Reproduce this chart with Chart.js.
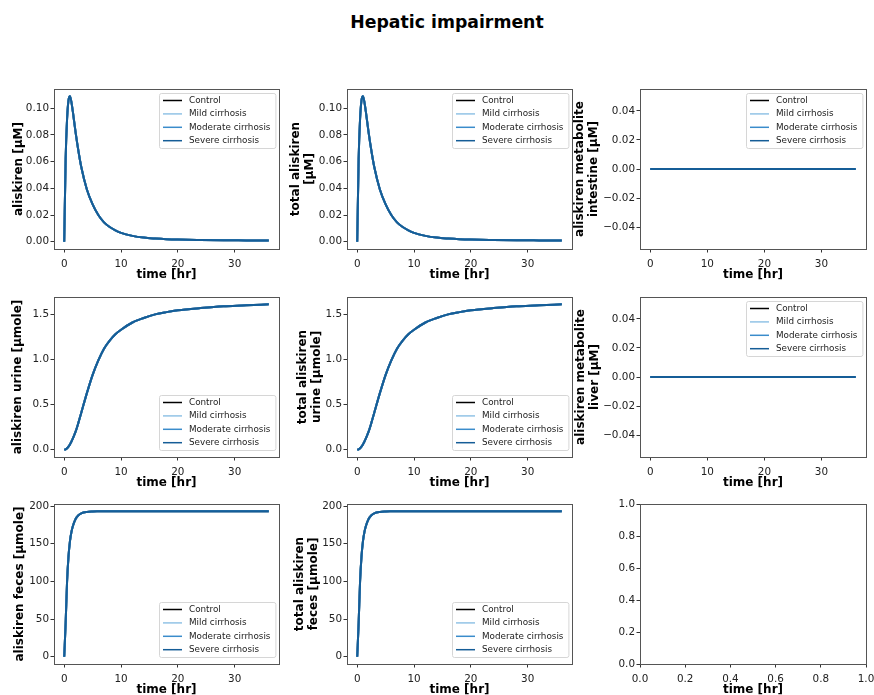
<!DOCTYPE html>
<html>
<head>
<meta charset="utf-8">
<script src="https://cdn.jsdelivr.net/npm/chart.js@4.4.0/dist/chart.umd.min.js"></script>
<style>
  body { margin: 0; background: #fff; }
  #fig { position: relative; width: 874px; height: 695px; }
  #fig canvas { position: absolute; left: 0; top: 0; }
  #title { position: absolute; top: 12px; left: 0; width: 894px; text-align: center;
           font: bold 17.3px "DejaVu Sans"; line-height: 20px; color: #000; }
</style>
</head>
<body>
<div id="fig"><div id="title">Hepatic impairment</div></div>
<script>
// simulated time course (hours)
const timeHr = [0, 0.25, 0.5, 0.75, 1, 1.25, 1.5, 2, 2.5, 3, 4, 5, 6, 7, 8, 9, 10, 12, 14, 16, 18, 20, 24, 28, 32, 36];
const aliskirenPlasma = [0, 0.062, 0.092, 0.106, 0.109, 0.105, 0.098, 0.082, 0.068, 0.056, 0.039, 0.028, 0.020, 0.0145, 0.011, 0.0085, 0.0066, 0.0044, 0.0031, 0.0024, 0.0019, 0.0016, 0.0013, 0.0011, 0.0010, 0.0009];
const aliskirenUrine = [0, 0.005, 0.016, 0.034, 0.058, 0.088, 0.122, 0.20, 0.30, 0.41, 0.63, 0.83, 0.99, 1.12, 1.21, 1.28, 1.33, 1.41, 1.46, 1.50, 1.525, 1.545, 1.57, 1.59, 1.60, 1.612];
const aliskirenFeces = [0, 45, 100, 133, 153, 165, 173, 183, 188, 190.5, 192.3, 192.9, 193.1, 193.2, 193.2, 193.2, 193.2, 193.2, 193.2, 193.2, 193.2, 193.2, 193.2, 193.2, 193.2, 193.2];
const metaboliteTime = [0, 36];
const metaboliteConc = [0, 0];

const groups = ['Control', 'Mild cirrhosis', 'Moderate cirrhosis', 'Severe cirrhosis'];
const groupColors = ['#000000', '#92c3e6', '#3a8ccb', '#155d97'];

const timeTicks = [0, 10, 20, 30];
const plasmaTicks = [0, 0.02, 0.04, 0.06, 0.08, 0.10];
const urineTicks = [0, 0.5, 1.0, 1.5];
const fecesTicks = [0, 50, 100, 150, 200];
const metaboliteTicks = [-0.04, -0.02, 0, 0.02, 0.04];
const unitTicks = [0, 0.2, 0.4, 0.6, 0.8, 1.0];

// subplot grid
const colLeft = [54, 347, 640];
const colRight = [279, 572, 866];
const rowTop = [89, 297, 504];
const rowBottom = [249, 457, 664];

const panels = [
  { row: 0, col: 0, ylabel: 'aliskiren [μM]', x: timeHr, y: aliskirenPlasma, yTicks: plasmaTicks, yDec: 2, legend: 'upper', labelX: 19 },
  { row: 0, col: 1, ylabel: ['total aliskiren', '[μM]'], x: timeHr, y: aliskirenPlasma, yTicks: plasmaTicks, yDec: 2, legend: 'upper', labelX: 296 },
  { row: 0, col: 2, ylabel: ['aliskiren metabolite', 'intestine [μM]'], x: metaboliteTime, y: metaboliteConc, yTicks: metaboliteTicks, yDec: 2, legend: 'upper', labelX: 580 },
  { row: 1, col: 0, ylabel: 'aliskiren urine [μmole]', x: timeHr, y: aliskirenUrine, yTicks: urineTicks, yDec: 1, legend: 'lower', labelX: 18 },
  { row: 1, col: 1, ylabel: ['total aliskiren', 'urine [μmole]'], x: timeHr, y: aliskirenUrine, yTicks: urineTicks, yDec: 1, legend: 'lower', labelX: 303 },
  { row: 1, col: 2, ylabel: ['aliskiren metabolite', 'liver [μM]'], x: metaboliteTime, y: metaboliteConc, yTicks: metaboliteTicks, yDec: 2, legend: 'upper', labelX: 581 },
  { row: 2, col: 0, ylabel: 'aliskiren feces [μmole]', x: timeHr, y: aliskirenFeces, yTicks: fecesTicks, yDec: 0, legend: 'lower', labelX: 20 },
  { row: 2, col: 1, ylabel: ['total aliskiren', 'feces [μmole]'], x: timeHr, y: aliskirenFeces, yTicks: fecesTicks, yDec: 0, legend: 'lower', labelX: 300 },
  { row: 2, col: 2, ylabel: null, x: null, y: null, yTicks: unitTicks, yDec: 1, legend: null, labelX: 0 }
];

Chart.defaults.font.family = '"DejaVu Sans"';

// 5% margins like matplotlib autoscale
function padLimits(vals) {
  const lo = Math.min(...vals), hi = Math.max(...vals);
  if (hi === lo) return [lo - 0.055, hi + 0.055];
  const m = (hi - lo) * 0.05;
  return [lo - m, hi + m];
}

function fmt(v, dec) {
  return v.toFixed(dec).replace('-', '\u2212');
}

// full box around the axes
const framePlugin = {
  id: 'frame',
  afterDraw(chart) {
    const a = chart.chartArea, ctx = chart.ctx;
    ctx.save();
    ctx.strokeStyle = '#555';
    ctx.lineWidth = 1;
    ctx.strokeRect(Math.round(a.left) + 0.5, Math.round(a.top) + 0.5,
                   Math.round(a.right - a.left), Math.round(a.bottom - a.top));
    ctx.restore();
  }
};

// legend drawn inside the axes with a rounded frame
const boxLegend = {
  id: 'boxLegend',
  afterDraw(chart, args, opts) {
    if (!opts.pos) return;
    const ctx = chart.ctx, a = chart.chartArea;
    const items = chart.data.datasets;
    ctx.save();
    ctx.font = '8.8px "DejaVu Sans"';
    const textW = Math.max(...items.map(d => ctx.measureText(d.label).width));
    const w = 30 + textW + 5, h = 55;
    const x = Math.round(a.right - 4 - w);
    const y = Math.round(opts.pos === 'upper' ? a.top + 4 : a.bottom - 7 - h);
    ctx.beginPath();
    ctx.roundRect(x + 0.5, y + 0.5, w, h, 2);
    ctx.fillStyle = 'rgba(255,255,255,0.8)';
    ctx.fill();
    ctx.strokeStyle = '#d6d6d6';
    ctx.lineWidth = 1;
    ctx.stroke();
    items.forEach((d, i) => {
      const cy = y + 7.5 + i * 13.4;
      ctx.beginPath();
      ctx.moveTo(x + 4, cy);
      ctx.lineTo(x + 23, cy);
      ctx.strokeStyle = d.borderColor;
      ctx.lineWidth = 1.5;
      ctx.stroke();
      ctx.fillStyle = '#222';
      ctx.textBaseline = 'middle';
      ctx.textAlign = 'left';
      ctx.fillText(d.label, x + 30, cy);
    });
    ctx.restore();
  }
};

const fig = document.getElementById('fig');

function makeChart(p) {
  const canvas = document.createElement('canvas');
  canvas.width = 874;
  canvas.height = 695;
  fig.appendChild(canvas);

  const left = colLeft[p.col], right = colRight[p.col];
  const top = rowTop[p.row], bottom = rowBottom[p.row];
  const yW = p.ylabel ? left - (p.labelX - 7) : 40;
  const xH = 32.5;

  // later groups are drawn on top (lower order = drawn last)
  const datasets = p.y ? groups.map((g, i) => ({
    label: g,
    data: p.x.map((t, k) => ({ x: t, y: p.y[k] })),
    borderColor: groupColors[i],
    borderWidth: 2,
    pointRadius: 0,
    order: groups.length - i,
    cubicInterpolationMode: 'monotone',
    fill: false
  })) : [];

  const xLim = p.x ? padLimits(p.x) : [0, 1];
  const yLim = p.y ? padLimits(p.y) : [0, 1];
  const xTicks = p.x ? timeTicks : unitTicks;
  const xDec = p.x ? 0 : 1;

  new Chart(canvas, {
    type: 'line',
    data: { datasets },
    options: {
      responsive: false,
      animation: false,
      devicePixelRatio: 1,
      layout: { padding: { left: left - yW, right: 874 - right, top: top, bottom: 695 - bottom - xH } },
      plugins: {
        legend: { display: false },
        tooltip: { enabled: false },
        boxLegend: { pos: p.legend }
      },
      scales: {
        x: {
          type: 'linear',
          min: xLim[0],
          max: xLim[1],
          afterBuildTicks: s => { s.ticks = xTicks.map(v => ({ value: v })); },
          afterFit: s => { s.height = xH; s.paddingLeft = 0; s.paddingRight = 0; },
          border: { display: false },
          grid: { drawOnChartArea: false, drawTicks: true, tickLength: 3.5, color: '#333' },
          ticks: { padding: 6, color: '#222', font: { size: 10.4 }, maxRotation: 0,
                   callback: v => fmt(v, xDec) },
          title: { display: true, text: 'time [hr]', color: '#000', padding: 0,
                   font: { size: 12, weight: 'bold', lineHeight: 1.17 } }
        },
        y: {
          type: 'linear',
          min: yLim[0],
          max: yLim[1],
          afterBuildTicks: s => { s.ticks = p.yTicks.map(v => ({ value: v })); },
          afterFit: s => { s.width = yW; s.paddingTop = 0; s.paddingBottom = 0; },
          border: { display: false },
          grid: { drawOnChartArea: false, drawTicks: true, tickLength: 3.5, color: '#333' },
          ticks: { padding: 1.5, color: '#222', font: { size: 10.4 },
                   callback: v => fmt(v, p.yDec) },
          title: { display: !!p.ylabel, text: p.ylabel || '', color: '#000', padding: 0,
                   font: { size: 12, weight: 'bold', lineHeight: 1.17 } }
        }
      }
    },
    plugins: [framePlugin, boxLegend]
  });
}

panels.forEach(makeChart);
</script>
</body>
</html>
